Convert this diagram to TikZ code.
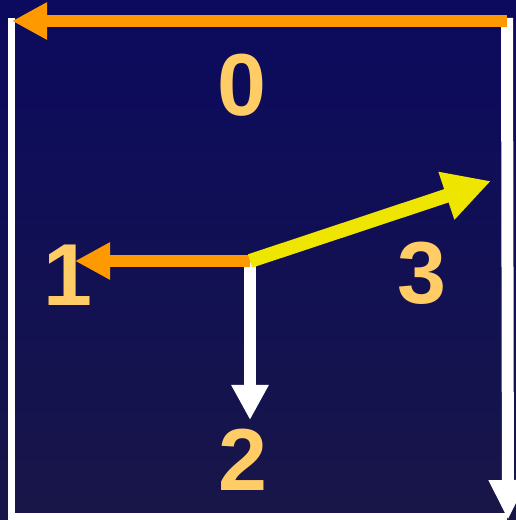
\documentclass[tikz,border=0pt]{standalone}
\usepackage{fontspec}
\setmainfont{Liberation Sans}
\usetikzlibrary{arrows.meta}
\definecolor{navytop}{RGB}{11,10,94}
\definecolor{navybottom}{RGB}{24,22,72}
\definecolor{orangearrow}{RGB}{255,153,0}
\definecolor{yellowarrow}{RGB}{238,230,0}
\definecolor{digitcolor}{RGB}{255,204,102}
\tikzset{
    digit/.style={inner sep=0pt, text=digitcolor, font=\bfseries\fontsize{88}{88}\selectfont},
    bigarrow/.style={line width=12pt, -{Triangle[length=35pt, width=35pt]}},
}

\begin{document}
\begin{tikzpicture}[x=1pt, y=1pt]
    \useasboundingbox (0,0) rectangle (516,520);
    \shade[top color=navytop, bottom color=navybottom] (0,0) rectangle (516,520);

    % frame
    \coordinate (topleft) at (11,502);
    \coordinate (bottomright) at (507,3);
    \coordinate (topright) at (507,502);
    \coordinate (rightend) at (508,0);
    \draw[white, line width=7pt] (topleft) |- (bottomright);
    \draw[white, line width=12pt, -{Triangle[length=40pt, width=36pt]}] (topright) -- (rightend);

    % top arrow
    \coordinate (topstart) at (507,499);
    \coordinate (topend) at (12,499);
    \draw[bigarrow, orangearrow] (topstart) -- (topend);

    % centre arrows
    \coordinate (origin) at (250,259);
    \coordinate (leftend) at (75,259);
    \coordinate (downstart) at (250,258);
    \coordinate (downend) at (250,100);
    \coordinate (slantend) at (491,339);
    \draw[bigarrow, white] (downstart) -- (downend);
    \draw[bigarrow, orangearrow] (origin) -- (leftend);
    \draw[yellowarrow, line width=14pt, -{Triangle[length=47pt, width=47pt]}] (origin) -- (slantend);

    % labels
    \node[digit] (zero) at (242,435) {0};
    \node[digit] (one) at (68,245) {1};
    \node[digit] (two) at (243,60) {2};
    \node[digit] (three) at (422,247) {3};
\end{tikzpicture}
\end{document}
